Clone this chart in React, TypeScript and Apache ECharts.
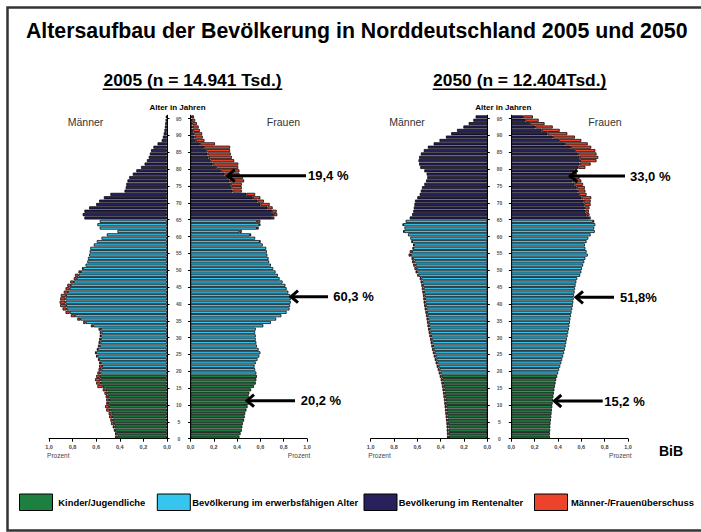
import React, { useEffect, useRef } from 'react';
import * as echarts from 'echarts';

// ---------- DATA (index = age in years, 0..95; share in percent) ----------
const AGES: string[] = Array.from({ length: 96 }, (_, i) => String(i));
const AGE_TICKS = [0, 5, 10, 15, 20, 25, 30, 35, 40, 45, 50, 55, 60, 65, 70, 75, 80, 85, 90, 95];

const MEN_2005 = [
  0.44, 0.44, 0.45, 0.46, 0.475, 0.48, 0.49, 0.495, 0.515, 0.525,
  0.515, 0.515, 0.52, 0.53, 0.545, 0.59, 0.6, 0.61, 0.6, 0.59,
  0.58, 0.575, 0.575, 0.585, 0.6, 0.61, 0.595, 0.585, 0.58, 0.575,
  0.57, 0.57, 0.58, 0.645, 0.71, 0.76, 0.815, 0.86, 0.885, 0.905,
  0.91, 0.905, 0.9, 0.875, 0.86, 0.845, 0.82, 0.79, 0.78, 0.75,
  0.72, 0.69, 0.675, 0.67, 0.66, 0.655, 0.65, 0.62, 0.595, 0.555,
  0.51, 0.42, 0.57, 0.59, 0.57, 0.7, 0.715, 0.7, 0.66, 0.6,
  0.575, 0.535, 0.48, 0.36, 0.35, 0.345, 0.335, 0.32, 0.29, 0.26,
  0.22, 0.19, 0.17, 0.155, 0.145, 0.135, 0.115, 0.08, 0.045, 0.035,
  0.028, 0.022, 0.018, 0.015, 0.012, 0.01,
];
const WOMEN_2005 = [
  0.42, 0.43, 0.44, 0.445, 0.45, 0.46, 0.465, 0.47, 0.48, 0.49,
  0.5, 0.49, 0.5, 0.505, 0.52, 0.545, 0.56, 0.565, 0.57, 0.565,
  0.555, 0.55, 0.56, 0.575, 0.59, 0.6, 0.585, 0.57, 0.565, 0.56,
  0.56, 0.555, 0.56, 0.625, 0.69, 0.735, 0.78, 0.825, 0.85, 0.855,
  0.86, 0.86, 0.855, 0.84, 0.825, 0.815, 0.79, 0.765, 0.75, 0.73,
  0.71, 0.69, 0.675, 0.67, 0.66, 0.655, 0.65, 0.62, 0.6, 0.555,
  0.52, 0.44, 0.585, 0.6, 0.6, 0.72, 0.745, 0.74, 0.705, 0.68,
  0.63, 0.6, 0.555, 0.44, 0.44, 0.44, 0.46, 0.45, 0.42, 0.42,
  0.41, 0.41, 0.375, 0.355, 0.345, 0.34, 0.34, 0.21, 0.12, 0.105,
  0.1, 0.08, 0.07, 0.055, 0.04, 0.03,
];
const MEN_2050 = [
  0.345, 0.346, 0.348, 0.349, 0.351, 0.354, 0.357, 0.36, 0.363, 0.366,
  0.369, 0.372, 0.376, 0.38, 0.384, 0.389, 0.394, 0.4, 0.408, 0.416,
  0.425, 0.434, 0.443, 0.451, 0.459, 0.467, 0.474, 0.48, 0.486, 0.491,
  0.497, 0.503, 0.508, 0.513, 0.517, 0.521, 0.526, 0.531, 0.537, 0.542,
  0.546, 0.549, 0.552, 0.557, 0.561, 0.566, 0.572, 0.58, 0.6, 0.615,
  0.625, 0.635, 0.645, 0.65, 0.675, 0.665, 0.64, 0.635, 0.65, 0.66,
  0.68, 0.72, 0.71, 0.725, 0.7, 0.665, 0.645, 0.635, 0.63, 0.625,
  0.62, 0.6, 0.58, 0.57, 0.56, 0.54, 0.525, 0.515, 0.52, 0.54,
  0.575, 0.585, 0.59, 0.585, 0.57, 0.545, 0.51, 0.46, 0.41, 0.355,
  0.31, 0.26, 0.205, 0.16, 0.12, 0.1,
];
const WOMEN_2050 = [
  0.33, 0.331, 0.333, 0.334, 0.336, 0.339, 0.342, 0.345, 0.348, 0.351,
  0.354, 0.357, 0.361, 0.365, 0.369, 0.374, 0.379, 0.385, 0.393, 0.401,
  0.41, 0.419, 0.428, 0.436, 0.444, 0.452, 0.459, 0.465, 0.471, 0.476,
  0.482, 0.488, 0.493, 0.498, 0.502, 0.506, 0.511, 0.516, 0.522, 0.527,
  0.531, 0.534, 0.537, 0.542, 0.546, 0.551, 0.557, 0.565, 0.59, 0.6,
  0.605, 0.615, 0.625, 0.635, 0.655, 0.645, 0.635, 0.63, 0.645, 0.66,
  0.68, 0.715, 0.71, 0.72, 0.71, 0.68, 0.67, 0.665, 0.67, 0.68,
  0.68, 0.685, 0.645, 0.635, 0.63, 0.615, 0.6, 0.585, 0.56, 0.56,
  0.635, 0.68, 0.73, 0.745, 0.73, 0.72, 0.685, 0.655, 0.6, 0.545,
  0.48, 0.415, 0.355, 0.285, 0.235, 0.185,
];

const TITLE = 'Altersaufbau der Bevölkerung in Norddeutschland 2005 und 2050';
const SUBTITLES = ['2005 (n = 14.941 Tsd.)', '2050 (n = 12.404Tsd.)'];
const SHARE_LABELS_2005 = ['19,4 %', '60,3 %', '20,2 %'];
const SHARE_LABELS_2050 = ['33,0 %', '51,8%', '15,2 %'];
const LEGEND_LABELS = ['Kinder/Jugendliche', 'Bevölkerung im erwerbsfähigen Alter', 'Bevölkerung im Rentenalter', 'Männer-/Frauenüberschuss'];
const YOUTH_MAX_AGE = 18;
const WORK_MAX_AGE = 64;

// ---------- STYLE ----------
const GREEN = '#1e8040';
const BLUE = '#36c5ef';
const NAVY = '#28215c';
const RED = '#ec432a';
const FONT = '"Liberation Sans", Arial, Helvetica, sans-serif';

const TOP = 115.2;
const BOTTOM = 438.7;

const PANELS = [
  { men: MEN_2005, women: WOMEN_2005, menL: 49, menR: 167, womL: 190.5, womR: 307, labelMargin: 11.8 },
  { men: MEN_2050, women: WOMEN_2050, menL: 370.7, menR: 487.3, womL: 511.3, womR: 628, labelMargin: 12.2 },
];

function groupColor(age: number) {
  return age <= YOUTH_MAX_AGE ? GREEN : age <= WORK_MAX_AGE ? BLUE : NAVY;
}

function txt(text: string, x: number, y: number, font: string, align = 'center', fill = '#000') {
  return {
    type: 'text', x, y, silent: true, z: 10,
    style: { text, fill, font, align, verticalAlign: 'middle' },
  };
}

function arrow(tip: number, end: number, y: number) {
  return [
    { type: 'line', silent: true, z: 10, shape: { x1: tip + 2, y1: y, x2: end, y2: y }, style: { stroke: '#000', lineWidth: 3 } },
    {
      type: 'polyline', silent: true, z: 10,
      shape: { points: [[tip + 8, y - 6], [tip + 1, y], [tip + 8, y + 6]] },
      style: { stroke: '#000', lineWidth: 3, fill: null, lineJoin: 'miter' },
    },
  ];
}

function buildOption() {
  const grid: any[] = [];
  const xAxis: any[] = [];
  const yAxis: any[] = [];
  const series: any[] = [];

  PANELS.forEach((p) => {
    (['men', 'women'] as const).forEach((side) => {
      const isMen = side === 'men';
      const own = isMen ? p.men : p.women;
      const other = isMen ? p.women : p.men;
      const gi = grid.length;
      const left = isMen ? p.menL : p.womL;
      const width = isMen ? p.menR - p.menL : p.womR - p.womL;
      grid.push({ left, top: TOP, width, height: BOTTOM - TOP, containLabel: false });
      xAxis.push({
        type: 'value', gridIndex: gi, min: 0, max: 1, interval: 0.2, inverse: isMen,
        axisLine: { show: true, onZero: false, lineStyle: { color: '#000', width: 1 } },
        axisTick: { show: true, length: 3, lineStyle: { color: '#000' } },
        splitLine: { show: false },
        axisLabel: {
          fontSize: 5.5, fontWeight: 'bold', color: '#444', margin: 5, fontFamily: FONT,
          formatter: (v: number) => v.toFixed(1).replace('.', ','),
        },
      });
      const catIdx = yAxis.length;
      yAxis.push({ type: 'category', gridIndex: gi, data: AGES, show: false });
      yAxis.push({
        type: 'value', gridIndex: gi, min: 0, max: 96, position: isMen ? 'right' : 'left',
        axisLine: { show: true, onZero: false, lineStyle: { color: '#000', width: 1 } },
        axisTick: { show: true, length: 2.5, customValues: AGE_TICKS, lineStyle: { color: '#000' } },
        splitLine: { show: false },
        axisLabel: {
          show: isMen, customValues: AGE_TICKS, fontSize: 5, fontWeight: 'bold', color: '#555',
          fontFamily: FONT, align: 'center', margin: p.labelMargin,
        },
      });
      series.push({
        type: 'bar', xAxisIndex: gi, yAxisIndex: catIdx, stack: 's' + gi,
        barCategoryGap: '10%',
        data: own.map((v, i) => Math.min(v, other[i])),
        itemStyle: {
          color: (d: any) => groupColor(d.dataIndex),
          borderColor: '#000', borderWidth: 0.75,
        },
        silent: true,
      });
      series.push({
        type: 'bar', xAxisIndex: gi, yAxisIndex: catIdx, stack: 's' + gi,
        barCategoryGap: '10%',
        data: own.map((v, i) => (v - other[i] > 0.0005 ? +(v - other[i]).toFixed(3) : null)),
        itemStyle: { color: RED, borderColor: '#000', borderWidth: 0.75 },
        silent: true,
      });
    });
  });

  const g: any[] = [];
  // outer frame
  g.push({ type: 'rect', silent: true, z: 0, shape: { x: 7.5, y: 7.5, width: 705, height: 523 }, style: { fill: null, stroke: '#333', lineWidth: 2.5 } });
  g.push(txt(TITLE, 356.7, 31, `bold 21.3px ${FONT}`));
  // subtitles with underline
  const subCx = [192.5, 519.7];
  const subW = [179.6, 174];
  SUBTITLES.forEach((s, i) => {
    g.push(txt(s, subCx[i], 80, `bold 17.4px ${FONT}`));
    g.push({ type: 'line', silent: true, z: 10, shape: { x1: subCx[i] - subW[i] / 2, y1: 89.3, x2: subCx[i] + subW[i] / 2, y2: 89.3 }, style: { stroke: '#000', lineWidth: 1.4 } });
  });
  // axis captions
  g.push(txt('Alter in Jahren', 177.5, 107.3, `bold 8px ${FONT}`));
  g.push(txt('Alter in Jahren', 503.3, 107.3, `bold 8px ${FONT}`));
  g.push(txt('Männer', 85.5, 122.3, `10.5px ${FONT}`, 'center', '#333'));
  g.push(txt('Frauen', 283.5, 122.3, `10.5px ${FONT}`, 'center', '#333'));
  g.push(txt('Männer', 407, 122.3, `10.5px ${FONT}`, 'center', '#333'));
  g.push(txt('Frauen', 605, 122.3, `10.5px ${FONT}`, 'center', '#333'));
  [58.3, 299, 379.5, 620.3].forEach((x) => g.push(txt('Prozent', x, 455.7, `6.5px ${FONT}`, 'center', '#444')));
  // arrows + shares
  const arr2005 = [
    { tip: 226.7, end: 306, y: 175.7, lx: 308 },
    { tip: 290, end: 328, y: 296.7, lx: 333.3 },
    { tip: 246, end: 295, y: 400.7, lx: 300.7 },
  ];
  const arr2050 = [
    { tip: 569.3, end: 625, y: 176, lx: 630 },
    { tip: 575, end: 614, y: 297.3, lx: 620 },
    { tip: 553.3, end: 602.7, y: 401, lx: 604.3 },
  ];
  arr2005.forEach((a, i) => {
    g.push(...arrow(a.tip, a.end, a.y));
    g.push(txt(SHARE_LABELS_2005[i], a.lx, a.y, `bold 13px ${FONT}`, 'left'));
  });
  arr2050.forEach((a, i) => {
    g.push(...arrow(a.tip, a.end, a.y));
    g.push(txt(SHARE_LABELS_2050[i], a.lx, a.y, `bold 13px ${FONT}`, 'left'));
  });
  g.push(txt('BiB', 671, 451, `bold 14px ${FONT}`));
  // legend
  const legColors = [GREEN, BLUE, NAVY, RED];
  const legBoxX = [19.5, 157.3, 364, 534.5];
  const legTextX = [58.3, 192.3, 398.7, 571];
  LEGEND_LABELS.forEach((l, i) => {
    g.push({ type: 'rect', silent: true, z: 10, shape: { x: legBoxX[i], y: 494, width: 33, height: 16.5 }, style: { fill: legColors[i], stroke: '#000', lineWidth: 1 } });
    g.push(txt(l, legTextX[i], 502.3, `bold 9.4px ${FONT}`, 'left'));
  });

  return {
    animation: false,
    backgroundColor: '#fff',
    grid, xAxis, yAxis, series,
    graphic: { elements: g },
  };
}

export default function App() {
  const ref = useRef<HTMLDivElement>(null);
  useEffect(() => {
    document.body.style.margin = '0';
    const chart = echarts.init(ref.current!, null, { renderer: 'svg', width: 701, height: 532 });
    chart.setOption(buildOption() as any);
    return () => chart.dispose();
  }, []);
  return <div ref={ref} style={{ width: 701, height: 532 }} />;
}
